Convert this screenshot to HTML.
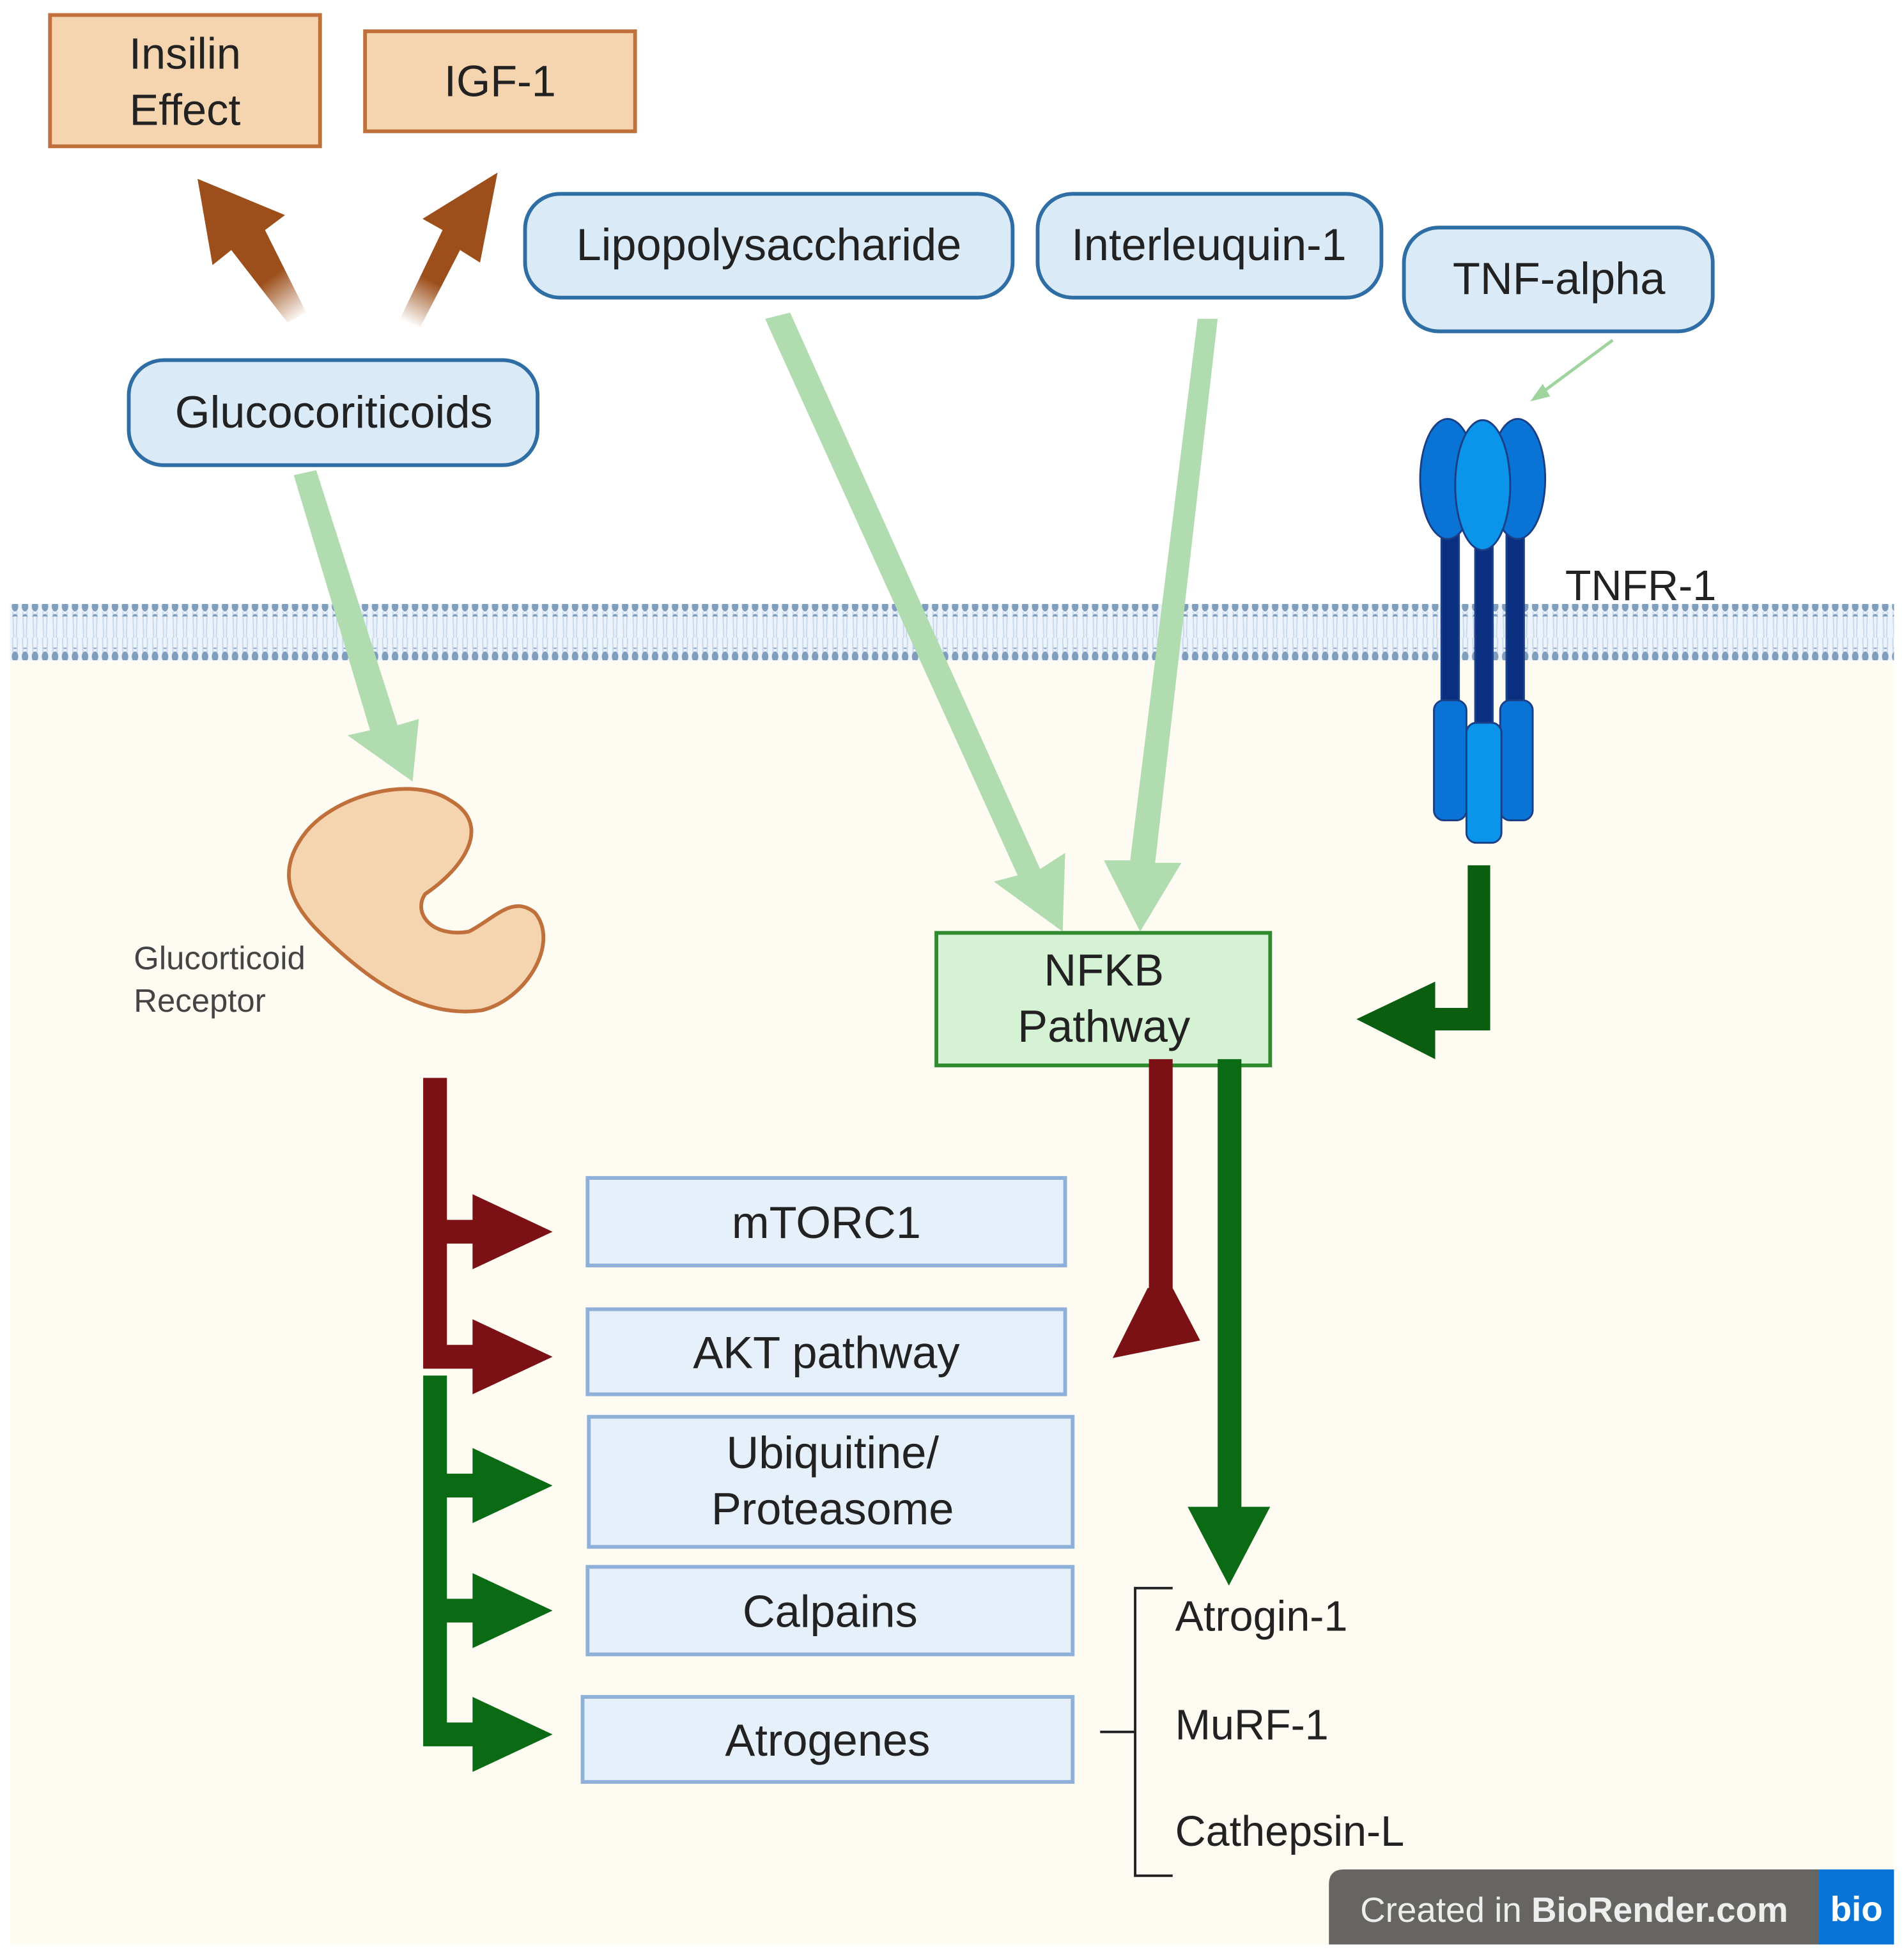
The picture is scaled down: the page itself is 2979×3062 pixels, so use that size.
<!DOCTYPE html>
<html><head><meta charset="utf-8"><style>
html,body{margin:0;padding:0;background:#fff;}
svg{display:block;}
text{font-family:"Liberation Sans",sans-serif;}
</style></head><body>
<svg width="2979" height="3062" viewBox="0 0 1523 1565" preserveAspectRatio="none" xmlns="http://www.w3.org/2000/svg">
<defs>
<pattern id="dots" x="0" y="0" width="8" height="10" patternUnits="userSpaceOnUse">
<ellipse cx="4" cy="5" rx="2.6" ry="4" fill="#7f9dbd"/>
</pattern>
<pattern id="tails" x="0" y="0" width="8" height="30" patternUnits="userSpaceOnUse">
<path d="M2 0 L3 30 M6 0 L5 30" stroke="#c8d9ee" stroke-width="1"/>
</pattern>
<linearGradient id="bl" gradientUnits="userSpaceOnUse" x1="240" y1="255" x2="200" y2="200"><stop offset="0" stop-color="#9c4f1a" stop-opacity="0"/><stop offset="0.6" stop-color="#9c4f1a"/></linearGradient>
<linearGradient id="br" gradientUnits="userSpaceOnUse" x1="325" y1="258" x2="355" y2="200"><stop offset="0" stop-color="#9c4f1a" stop-opacity="0"/><stop offset="0.6" stop-color="#9c4f1a"/></linearGradient>
</defs>
<rect x="0" y="0" width="1523" height="1565" fill="#fff"/>
<rect x="8" y="505" width="1507" height="1050" fill="#fdfbf2"/>
<rect x="8" y="483" width="1507" height="45" fill="#edf3fa"/>
<rect x="8" y="489" width="1507" height="34" fill="url(#tails)"/>
<rect x="8" y="483" width="1507" height="10" fill="url(#dots)"/>
<rect x="8" y="518" width="1507" height="10" fill="url(#dots)"/>

<rect x="40" y="12" width="216" height="105" fill="#f5d5b0" stroke="#c0703a" stroke-width="3"/>
<text x="148" y="55" font-size="35" text-anchor="middle" fill="#222">Insilin</text>
<text x="148" y="100" font-size="35" text-anchor="middle" fill="#222">Effect</text>
<rect x="292" y="25" width="216" height="80" fill="#f5d5b0" stroke="#c0703a" stroke-width="3"/>
<text x="400" y="77" font-size="35" text-anchor="middle" fill="#222">IGF-1</text>

<polygon points="245,250 230,258 185,200 170,212 158,143 228,172 212,184" fill="url(#bl)"/>
<polygon points="320,255 336,262 368,200 384,210 398,138 338,175 354,184" fill="url(#br)"/>

<g fill="#dbeaf7" stroke="#2f6ea5" stroke-width="3">
<rect x="420" y="155" width="390" height="83" rx="28"/>
<rect x="830" y="155" width="275" height="83" rx="28"/>
<rect x="1123" y="182" width="247" height="83" rx="28"/>
<rect x="103" y="288" width="327" height="84" rx="28"/>
</g>
<g font-size="36" text-anchor="middle" fill="#222">
<text x="615" y="208">Lipopolysaccharide</text>
<text x="967" y="208">Interleuquin-1</text>
<text x="1247" y="235">TNF-alpha</text>
<text x="267" y="342">Glucocoriticoids</text>
</g>

<polygon points="235,380 253,376 318,580 335,575 330,625 278,588 296,584" fill="#b0dcb0"/>
<polygon points="612,255 632,250 832,695 852,682 850,745 795,705 814,700" fill="#b0dcb0"/>
<polygon points="958,255 974,255 924,690 945,690 912,745 883,688 904,688" fill="#b0dcb0"/>
<line x1="1290" y1="272" x2="1232" y2="315" stroke="#9fd49f" stroke-width="2.5"/>
<polygon points="1224,321 1234,307 1240,317" fill="#9fd49f"/>

<g stroke="#1a3f86" stroke-width="1.5">
<rect x="1153" y="415" width="14" height="160" fill="#0b2f80"/>
<rect x="1180" y="430" width="14" height="160" fill="#0b2f80"/>
<rect x="1205" y="415" width="14" height="160" fill="#0b2f80"/>
<rect x="1147" y="560" width="26" height="96" rx="8" fill="#0a74d6"/>
<rect x="1200" y="560" width="26" height="96" rx="8" fill="#0a74d6"/>
<rect x="1173" y="578" width="28" height="96" rx="8" fill="#0a94ea"/>
<ellipse cx="1158" cy="383" rx="22" ry="48" fill="#0a74d6"/>
<ellipse cx="1214" cy="383" rx="22" ry="48" fill="#0a74d6"/>
<ellipse cx="1186" cy="388" rx="22" ry="52" fill="#0a94ea"/>
</g>
<text x="1252" y="480" font-size="34" fill="#222">TNFR-1</text>

<path d="M245,665 C270,635 330,620 360,640 C395,660 370,695 340,715 C330,730 345,750 375,745 C395,735 410,715 428,730 C448,755 420,800 385,808 C335,815 290,780 255,745 C225,715 225,690 245,665 Z" fill="#f5d5b0" stroke="#c0703a" stroke-width="3"/>
<text x="107" y="775" font-size="26" fill="#444">Glucorticoid</text>
<text x="107" y="809" font-size="26" fill="#444">Receptor</text>

<rect x="749" y="746" width="267" height="106" fill="#d5f2d5" stroke="#2e8b2e" stroke-width="3"/>
<text x="883" y="788" font-size="36" text-anchor="middle" fill="#222">NFKB</text>
<text x="883" y="833" font-size="36" text-anchor="middle" fill="#222">Pathway</text>

<path d="M1183,692 L1183,815 L1140,815" fill="none" stroke="#0b5e10" stroke-width="18"/>
<polygon points="1148,785 1085,815 1148,847" fill="#0b5e10"/>

<rect x="919" y="847" width="19" height="195" fill="#7b1114"/>
<polygon points="918,1030 938,1030 960,1072 890,1086" fill="#7b1114"/>
<rect x="974" y="847" width="19" height="365" fill="#0b6b14"/>
<polygon points="950,1205 1016,1205 983,1268" fill="#0b6b14"/>

<path d="M348,862 L348,1085 L385,1085 M348,985 L385,985" fill="none" stroke="#7b1114" stroke-width="19"/>
<polygon points="378,955 442,985 378,1015" fill="#7b1114"/>
<polygon points="378,1055 442,1085 378,1115" fill="#7b1114"/>
<path d="M348,1100 L348,1387 L385,1387 M348,1188 L385,1188 M348,1288 L385,1288" fill="none" stroke="#0b6b14" stroke-width="19"/>
<polygon points="378,1158 442,1188 378,1218" fill="#0b6b14"/>
<polygon points="378,1258 442,1288 378,1318" fill="#0b6b14"/>
<polygon points="378,1357 442,1387 378,1417" fill="#0b6b14"/>

<g fill="#e6f0fa" stroke="#8fb0d8" stroke-width="3">
<rect x="470" y="942" width="382" height="70"/>
<rect x="470" y="1047" width="382" height="68"/>
<rect x="471" y="1133" width="387" height="104"/>
<rect x="470" y="1253" width="388" height="70"/>
<rect x="466" y="1357" width="392" height="68"/>
</g>
<g font-size="36" text-anchor="middle" fill="#222">
<text x="661" y="990">mTORC1</text>
<text x="661" y="1094">AKT pathway</text>
<text x="666" y="1174">Ubiquitine/</text>
<text x="666" y="1219">Proteasome</text>
<text x="664" y="1301">Calpains</text>
<text x="662" y="1404">Atrogenes</text>
</g>

<path d="M880,1385 L908,1385 M938,1270 L908,1270 L908,1500 L938,1500" fill="none" stroke="#222" stroke-width="2"/>
<g font-size="34" fill="#222">
<text x="940" y="1304">Atrogin-1</text>
<text x="940" y="1391">MuRF-1</text>
<text x="940" y="1476">Cathepsin-L</text>
</g>

<path d="M1075,1495 L1455,1495 L1455,1555 L1063,1555 L1063,1507 Q1063,1495 1075,1495 Z" fill="#666561"/>
<rect x="1455" y="1495" width="60" height="60" fill="#0a74d6"/>
<text x="1088" y="1537" font-size="28" fill="#eee">Created in <tspan font-weight="bold">BioRender.com</tspan></text>
<text x="1485" y="1536" font-size="28" font-weight="bold" fill="#fff" text-anchor="middle">bio</text>
</svg>
</body></html>
